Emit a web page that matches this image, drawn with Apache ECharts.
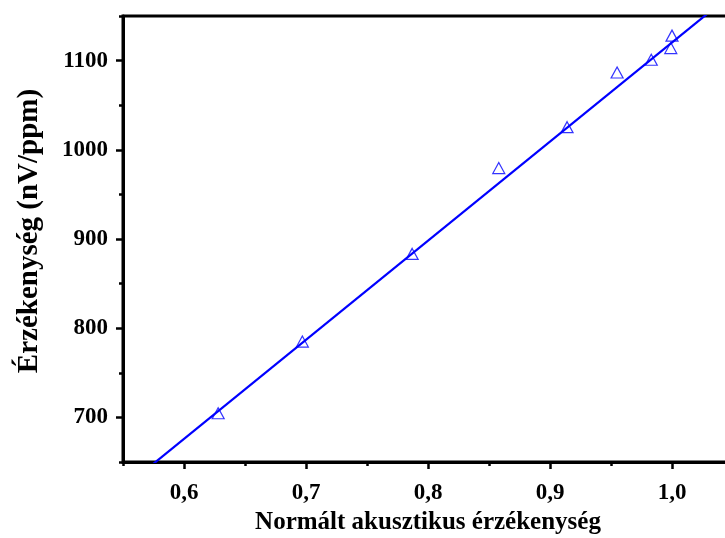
<!DOCTYPE html>
<html>
<head>
<meta charset="utf-8">
<script src="https://cdn.jsdelivr.net/npm/echarts@6/dist/echarts.min.js"></script>
<style>
  html, body { margin: 0; padding: 0; background: #fff; }
  #chart { width: 725px; height: 538px; }
</style>
</head>
<body>
<div id="chart"></div>
<script>
// measured points
const normSens = [0.628, 0.697, 0.787, 0.858, 0.914, 0.955, 0.983, 0.999, 1.0];
const sensitivity = [704.6, 785, 883.3, 979.5, 1025.4, 1086.7, 1101, 1114, 1128];

// linear fit
const fitSlope = 1111;
const fitIntercept = 9.3;
const fitX = [0.55, 1.05];

// axis ticks
const xMajorTicks = [0.6, 0.7, 0.8, 0.9, 1.0];
const xMinorTicks = [0.55, 0.65, 0.75, 0.85, 0.95, 1.05];
const yMajorTicks = [700, 800, 900, 1000, 1100];
const yMinorTicks = [650, 750, 850, 950, 1050, 1150];

const chart = echarts.init(document.getElementById('chart'));

const font = 'Liberation Serif';
const commaFmt = v => v.toFixed(1).replace('.', ',');

const points = normSens.map((x, i) => [x, sensitivity[i]]);
const fitLine = fitX.map(x => [x, fitIntercept + fitSlope * x]);

const option = {
  animation: false,
  grid: {
    left: 123, top: 16, width: 610, height: 446,
    outerBoundsMode: 'none',
    show: true, borderColor: '#000', borderWidth: 3
  },
  xAxis: [
    {
      type: 'value', min: 0.55, max: 1.05, interval: 0.05,
      position: 'bottom',
      name: 'Normált akusztikus érzékenység',
      nameLocation: 'middle', nameGap: 48,
      nameTextStyle: { fontFamily: font, fontWeight: 'bold', fontSize: 25, color: '#000' },
      axisLine: { show: true, lineStyle: { color: '#000', width: 3 } },
      axisTick: { show: true, length: 7, lineStyle: { color: '#000', width: 2.5 }, customValues: xMajorTicks },
      axisLabel: {
        customValues: xMajorTicks, formatter: commaFmt, margin: 20,
        fontFamily: font, fontWeight: 'bold', fontSize: 23, color: '#000'
      },
      splitLine: { show: false }
    },
    {
      type: 'value', min: 0.55, max: 1.05, interval: 0.05,
      position: 'bottom',
      axisLine: { show: false },
      axisTick: { show: true, length: 4, lineStyle: { color: '#000', width: 2.5 }, customValues: xMinorTicks },
      axisLabel: { show: false },
      splitLine: { show: false }
    }
  ],
  yAxis: [
    {
      type: 'value', min: 650, max: 1150, interval: 50,
      position: 'left',
      name: 'Érzékenység (nV/ppm)',
      nameLocation: 'middle', nameGap: 79,
      nameTextStyle: {
        fontFamily: font, fontWeight: 'bold', fontSize: 29, color: '#000',
        padding: [0, 0, 0, 16]
      },
      axisLine: { show: true, lineStyle: { color: '#000', width: 3 } },
      axisTick: { show: true, length: 7, lineStyle: { color: '#000', width: 2.5 }, customValues: yMajorTicks },
      axisLabel: {
        customValues: yMajorTicks, formatter: v => String(v), margin: 15,
        fontFamily: font, fontWeight: 'bold', fontSize: 23, color: '#000'
      },
      splitLine: { show: false }
    },
    {
      type: 'value', min: 650, max: 1150, interval: 50,
      position: 'left',
      axisLine: { show: false },
      axisTick: { show: true, length: 4, lineStyle: { color: '#000', width: 2.5 }, customValues: yMinorTicks },
      axisLabel: { show: false },
      splitLine: { show: false }
    }
  ],
  series: [
    {
      type: 'line',
      data: fitLine,
      showSymbol: false,
      clip: true,
      lineStyle: { color: '#0000ff', width: 2.2 },
      z: 2
    },
    {
      type: 'scatter',
      data: points,
      symbol: 'triangle',
      symbolSize: [12, 11],
      itemStyle: { color: 'rgba(255,255,255,0)', borderColor: '#0000ff', borderWidth: 1.2 },
      z: 3
    }
  ]
};

chart.setOption(option);
</script>
</body>
</html>
